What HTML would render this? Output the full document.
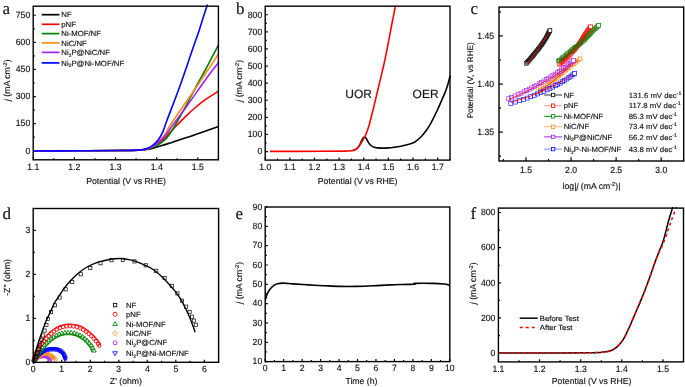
<!DOCTYPE html>
<html><head><meta charset="utf-8"><style>html,body{margin:0;padding:0;background:#fff;width:685px;height:387px;overflow:hidden}svg{display:block;will-change:transform}text{font-family:"Liberation Sans",sans-serif;text-rendering:geometricPrecision;stroke:#111;stroke-width:0.15px}</style></head>
<body><svg width="685" height="387" viewBox="0 0 685 387" font-family="Liberation Sans, sans-serif" fill="#111" stroke-width="0"><path d="M33.20 159.80v-2.6 M74.36 159.80v-2.6 M115.51 159.80v-2.6 M156.67 159.80v-2.6 M197.82 159.80v-2.6 M53.78 159.80v-1.6 M94.93 159.80v-1.6 M136.09 159.80v-1.6 M177.24 159.80v-1.6 M218.40 159.80v-1.6 M33.20 150.76h2.6 M33.20 123.66h2.6 M33.20 96.55h2.6 M33.20 69.45h2.6 M33.20 42.34h2.6 M33.20 15.24h2.6 M33.20 137.21h1.6 M33.20 110.11h1.6 M33.20 83.00h1.6 M33.20 55.89h1.6 M33.20 28.79h1.6" stroke="#000" stroke-width="1.2" fill="none"/>
<text transform="translate(33.20,169.60) scale(0.96,1)" font-size="9.0" text-anchor="middle" >1.1</text>
<text transform="translate(74.36,169.60) scale(0.96,1)" font-size="9.0" text-anchor="middle" >1.2</text>
<text transform="translate(115.51,169.60) scale(0.96,1)" font-size="9.0" text-anchor="middle" >1.3</text>
<text transform="translate(156.67,169.60) scale(0.96,1)" font-size="9.0" text-anchor="middle" >1.4</text>
<text transform="translate(197.82,169.60) scale(0.96,1)" font-size="9.0" text-anchor="middle" >1.5</text>
<text transform="translate(30.20,153.59) scale(0.96,1)" font-size="9.0" text-anchor="end" >0</text>
<text transform="translate(30.20,126.48) scale(0.96,1)" font-size="9.0" text-anchor="end" >150</text>
<text transform="translate(30.20,99.37) scale(0.96,1)" font-size="9.0" text-anchor="end" >300</text>
<text transform="translate(30.20,72.27) scale(0.96,1)" font-size="9.0" text-anchor="end" >450</text>
<text transform="translate(30.20,45.16) scale(0.96,1)" font-size="9.0" text-anchor="end" >600</text>
<text transform="translate(30.20,18.06) scale(0.96,1)" font-size="9.0" text-anchor="end" >750</text>
<text x="2.50" y="14.10" style="font-family:'Liberation Serif',serif" font-size="17">a</text>
<text transform="translate(9.60,80.20) rotate(-90) scale(1.0,1)" font-size="8.7" text-anchor="middle"><tspan font-style="italic">j</tspan> (mA cm<tspan font-size="5.6" dy="-3">-2</tspan><tspan dy="3">)</tspan></text>
<text transform="translate(126.00,183.80) scale(1.0,1)" font-size="8.7" text-anchor="middle" >Potential (V vs RHE)</text>
<path d="M33.50 151.00 C41.25 150.97 65.58 150.88 80.00 150.80 C94.42 150.72 110.33 150.60 120.00 150.50 C129.67 150.40 134.00 150.30 138.00 150.20 C142.00 150.10 142.17 150.05 144.00 149.90 C145.83 149.75 147.10 149.72 149.00 149.30 C150.90 148.88 153.13 148.07 155.40 147.40 C157.67 146.73 160.17 146.02 162.60 145.30 C165.03 144.58 167.77 143.82 170.00 143.10 C172.23 142.38 172.67 142.12 176.00 141.00 C179.33 139.88 186.00 137.75 190.00 136.40 C194.00 135.05 195.25 134.53 200.00 132.90 C204.75 131.27 215.42 127.65 218.50 126.60" stroke="#000" stroke-width="1.6" fill="none" stroke-linejoin="round" />
<path d="M33.50 151.00 C41.25 150.97 65.58 150.88 80.00 150.80 C94.42 150.72 110.33 150.60 120.00 150.50 C129.67 150.40 134.00 150.35 138.00 150.20 C142.00 150.05 142.17 149.87 144.00 149.60 C145.83 149.33 147.50 149.07 149.00 148.60 C150.50 148.13 151.48 147.63 153.00 146.80 C154.52 145.97 156.05 145.13 158.10 143.60 C160.15 142.07 163.32 139.48 165.30 137.60 C167.28 135.72 168.07 134.35 170.00 132.30 C171.93 130.25 174.28 127.97 176.90 125.30 C179.52 122.63 182.52 119.35 185.70 116.30 C188.88 113.25 192.78 109.73 196.00 107.00 C199.22 104.27 201.25 102.52 205.00 99.90 C208.75 97.28 216.25 92.73 218.50 91.30" stroke="#ff0000" stroke-width="1.6" fill="none" stroke-linejoin="round" />
<path d="M33.50 151.00 C41.25 150.97 65.58 150.88 80.00 150.80 C94.42 150.72 110.33 150.60 120.00 150.50 C129.67 150.40 134.00 150.33 138.00 150.20 C142.00 150.07 142.17 149.93 144.00 149.70 C145.83 149.47 147.50 149.20 149.00 148.80 C150.50 148.40 151.48 147.97 153.00 147.30 C154.52 146.63 156.05 146.12 158.10 144.80 C160.15 143.48 163.32 141.27 165.30 139.40 C167.28 137.53 168.33 136.00 170.00 133.60 C171.67 131.20 172.68 129.55 175.30 125.00 C177.92 120.45 182.08 112.97 185.70 106.30 C189.32 99.63 193.65 91.22 197.00 85.00 C200.35 78.78 203.30 73.63 205.80 69.00 C208.30 64.37 209.88 61.20 212.00 57.20 C214.12 53.20 217.42 47.03 218.50 45.00" stroke="#008000" stroke-width="1.6" fill="none" stroke-linejoin="round" />
<path d="M33.50 151.00 C41.25 150.97 65.58 150.88 80.00 150.80 C94.42 150.72 110.33 150.60 120.00 150.50 C129.67 150.40 134.00 150.38 138.00 150.20 C142.00 150.02 142.17 149.73 144.00 149.40 C145.83 149.07 147.50 148.77 149.00 148.20 C150.50 147.63 151.48 147.05 153.00 146.00 C154.52 144.95 156.05 143.90 158.10 141.90 C160.15 139.90 163.32 136.75 165.30 134.00 C167.28 131.25 166.60 130.65 170.00 125.40 C173.40 120.15 181.02 109.30 185.70 102.50 C190.38 95.70 194.75 89.52 198.10 84.60 C201.45 79.68 203.48 76.47 205.80 73.00 C208.12 69.53 209.88 66.97 212.00 63.80 C214.12 60.63 217.42 55.63 218.50 54.00" stroke="#ff8c1a" stroke-width="1.6" fill="none" stroke-linejoin="round" />
<path d="M33.50 151.00 C41.25 150.97 65.58 150.88 80.00 150.80 C94.42 150.72 110.33 150.60 120.00 150.50 C129.67 150.40 134.00 150.37 138.00 150.20 C142.00 150.03 142.17 149.80 144.00 149.50 C145.83 149.20 147.50 148.92 149.00 148.40 C150.50 147.88 151.48 147.37 153.00 146.40 C154.52 145.43 156.05 144.37 158.10 142.60 C160.15 140.83 163.32 138.07 165.30 135.80 C167.28 133.53 168.75 130.80 170.00 129.00 C171.25 127.20 170.18 128.55 172.80 125.00 C175.42 121.45 180.88 114.37 185.70 107.70 C190.52 101.03 197.65 90.68 201.70 85.00 C205.75 79.32 207.20 77.33 210.00 73.60 C212.80 69.87 217.08 64.43 218.50 62.60" stroke="#a020f0" stroke-width="1.6" fill="none" stroke-linejoin="round" />
<path d="M33.50 151.00 C41.25 150.97 65.58 150.88 80.00 150.80 C94.42 150.72 110.33 150.62 120.00 150.50 C129.67 150.38 134.00 150.32 138.00 150.10 C142.00 149.88 142.17 149.62 144.00 149.20 C145.83 148.78 147.50 148.30 149.00 147.60 C150.50 146.90 151.48 146.28 153.00 145.00 C154.52 143.72 156.50 142.02 158.10 139.90 C159.70 137.78 161.12 135.57 162.60 132.30 C164.08 129.03 164.02 128.27 167.00 120.30 C169.98 112.33 176.25 96.30 180.50 84.50 C184.75 72.70 189.35 58.63 192.50 49.50 C195.65 40.37 197.40 35.72 199.40 29.70 C201.40 23.68 203.15 17.60 204.50 13.40 C205.85 9.20 207.00 5.98 207.50 4.50" stroke="#0000ff" stroke-width="1.6" fill="none" stroke-linejoin="round" />
<path d="M41.7 14.70H59.4" stroke="#000" stroke-width="1.7"/>
<text transform="translate(61.30,17.35) scale(1.05,1)" font-size="7.4" text-anchor="start" >NF</text>
<path d="M41.7 24.30H59.4" stroke="#ff0000" stroke-width="1.7"/>
<text transform="translate(61.30,26.95) scale(1.05,1)" font-size="7.4" text-anchor="start" >pNF</text>
<path d="M41.7 33.60H59.4" stroke="#008000" stroke-width="1.7"/>
<text transform="translate(61.30,36.25) scale(1.05,1)" font-size="7.4" text-anchor="start" >Ni-MOF/NF</text>
<path d="M41.7 42.90H59.4" stroke="#ff8c1a" stroke-width="1.7"/>
<text transform="translate(61.30,45.55) scale(1.05,1)" font-size="7.4" text-anchor="start" >NiC/NF</text>
<path d="M41.7 52.40H59.4" stroke="#a020f0" stroke-width="1.7"/>
<text transform="translate(61.30,55.05) scale(1.05,1)" font-size="7.4" text-anchor="start" >Ni<tspan font-size="4.8" dy="1.8">2</tspan><tspan dy="-1.8">P@NiC/NF</tspan></text>
<path d="M41.7 62.90H59.4" stroke="#0000ff" stroke-width="1.7"/>
<text transform="translate(61.30,65.55) scale(1.05,1)" font-size="7.4" text-anchor="start" >Ni<tspan font-size="4.8" dy="1.8">2</tspan><tspan dy="-1.8">P@Ni-MOF/NF</tspan></text>
<path d="M265.20 160.10v-2.6 M289.84 160.10v-2.6 M314.48 160.10v-2.6 M339.12 160.10v-2.6 M363.76 160.10v-2.6 M388.40 160.10v-2.6 M413.04 160.10v-2.6 M437.68 160.10v-2.6 M277.52 160.10v-1.6 M302.16 160.10v-1.6 M326.80 160.10v-1.6 M351.44 160.10v-1.6 M376.08 160.10v-1.6 M400.72 160.10v-1.6 M425.36 160.10v-1.6 M450.00 160.10v-1.6 M265.20 151.55h2.6 M265.20 134.45h2.6 M265.20 117.35h2.6 M265.20 100.25h2.6 M265.20 83.15h2.6 M265.20 66.05h2.6 M265.20 48.95h2.6 M265.20 31.85h2.6 M265.20 14.75h2.6 M265.20 143.00h1.6 M265.20 125.90h1.6 M265.20 108.80h1.6 M265.20 91.70h1.6 M265.20 74.60h1.6 M265.20 57.50h1.6 M265.20 40.40h1.6 M265.20 23.30h1.6" stroke="#000" stroke-width="1.2" fill="none"/>
<text transform="translate(265.20,169.90) scale(0.96,1)" font-size="9.0" text-anchor="middle" >1.0</text>
<text transform="translate(289.84,169.90) scale(0.96,1)" font-size="9.0" text-anchor="middle" >1.1</text>
<text transform="translate(314.48,169.90) scale(0.96,1)" font-size="9.0" text-anchor="middle" >1.2</text>
<text transform="translate(339.12,169.90) scale(0.96,1)" font-size="9.0" text-anchor="middle" >1.3</text>
<text transform="translate(363.76,169.90) scale(0.96,1)" font-size="9.0" text-anchor="middle" >1.4</text>
<text transform="translate(388.40,169.90) scale(0.96,1)" font-size="9.0" text-anchor="middle" >1.5</text>
<text transform="translate(413.04,169.90) scale(0.96,1)" font-size="9.0" text-anchor="middle" >1.6</text>
<text transform="translate(437.68,169.90) scale(0.96,1)" font-size="9.0" text-anchor="middle" >1.7</text>
<text transform="translate(262.20,154.37) scale(0.96,1)" font-size="9.0" text-anchor="end" >0</text>
<text transform="translate(262.20,137.27) scale(0.96,1)" font-size="9.0" text-anchor="end" >100</text>
<text transform="translate(262.20,120.17) scale(0.96,1)" font-size="9.0" text-anchor="end" >200</text>
<text transform="translate(262.20,103.07) scale(0.96,1)" font-size="9.0" text-anchor="end" >300</text>
<text transform="translate(262.20,85.97) scale(0.96,1)" font-size="9.0" text-anchor="end" >400</text>
<text transform="translate(262.20,68.87) scale(0.96,1)" font-size="9.0" text-anchor="end" >500</text>
<text transform="translate(262.20,51.77) scale(0.96,1)" font-size="9.0" text-anchor="end" >600</text>
<text transform="translate(262.20,34.67) scale(0.96,1)" font-size="9.0" text-anchor="end" >700</text>
<text transform="translate(262.20,17.57) scale(0.96,1)" font-size="9.0" text-anchor="end" >800</text>
<text x="236.10" y="14.30" style="font-family:'Liberation Serif',serif" font-size="17">b</text>
<text transform="translate(242.20,80.80) rotate(-90) scale(1.0,1)" font-size="8.7" text-anchor="middle"><tspan font-style="italic">j</tspan> (mA cm<tspan font-size="5.6" dy="-3">-2</tspan><tspan dy="3">)</tspan></text>
<text transform="translate(357.60,183.90) scale(1.0,1)" font-size="8.7" text-anchor="middle" >Potential (V vs RHE)</text>
<path d="M353.00 150.60 C353.67 150.25 355.92 149.38 357.00 148.50 C358.08 147.62 358.75 146.57 359.50 145.30 C360.25 144.03 360.82 142.23 361.50 140.90 C362.18 139.57 362.90 137.85 363.60 137.30 C364.30 136.75 365.02 136.95 365.70 137.60 C366.38 138.25 366.85 139.88 367.70 141.20 C368.55 142.52 369.58 144.45 370.80 145.50 C372.02 146.55 373.27 147.07 375.00 147.50 C376.73 147.93 378.97 148.03 381.20 148.10 C383.43 148.17 386.10 148.07 388.40 147.90 C390.70 147.73 392.73 147.42 395.00 147.10 C397.27 146.78 399.67 146.47 402.00 146.00 C404.33 145.53 406.87 144.97 409.00 144.30 C411.13 143.63 412.87 143.17 414.80 142.00 C416.73 140.83 418.67 139.25 420.60 137.30 C422.53 135.35 424.67 132.72 426.40 130.30 C428.13 127.88 429.17 126.18 431.00 122.80 C432.83 119.42 435.57 113.88 437.40 110.00 C439.23 106.12 440.70 102.48 442.00 99.50 C443.30 96.52 444.20 94.68 445.20 92.10 C446.20 89.52 447.17 86.77 448.00 84.00 C448.83 81.23 449.83 76.92 450.20 75.50" stroke="#000" stroke-width="1.6" fill="none" stroke-linejoin="round" />
<path d="M270.00 151.40 C278.33 151.38 307.50 151.35 320.00 151.30 C332.50 151.25 339.67 151.22 345.00 151.10 C350.33 150.98 350.28 150.80 352.00 150.60 C353.72 150.40 354.23 150.52 355.30 149.90 C356.37 149.28 357.18 148.43 358.40 146.90 C359.62 145.37 361.38 142.72 362.60 140.70 C363.82 138.68 364.67 137.22 365.70 134.80 C366.73 132.38 368.05 128.50 368.80 126.20 C369.55 123.90 369.42 124.03 370.20 121.00 C370.98 117.97 372.30 112.88 373.50 108.00 C374.70 103.12 375.65 99.03 377.40 91.70 C379.15 84.37 382.35 71.28 384.00 64.00 C385.65 56.72 386.08 54.17 387.30 48.00 C388.52 41.83 389.93 34.08 391.30 27.00 C392.67 19.92 394.80 9.08 395.50 5.50" stroke="#ff0000" stroke-width="1.6" fill="none" stroke-linejoin="round" />
<text transform="translate(358.60,97.90) scale(1.0,1)" font-size="12" text-anchor="middle" >UOR</text>
<text transform="translate(425.60,97.90) scale(1.0,1)" font-size="12" text-anchor="middle" >OER</text>
<path d="M526.03 161.00v-3.8 M571.08 161.00v-3.8 M616.13 161.00v-3.8 M661.18 161.00v-3.8 M503.50 161.00v-2.0 M548.55 161.00v-2.0 M593.60 161.00v-2.0 M638.65 161.00v-2.0 M683.70 161.00v-2.0 M499.00 132.14h3.8 M499.00 84.05h3.8 M499.00 35.96h3.8 M499.00 156.19h2.0 M499.00 108.10h2.0 M499.00 60.00h2.0 M499.00 11.91h2.0" stroke="#000" stroke-width="1.2" fill="none"/>
<text transform="translate(526.03,172.60) scale(0.96,1)" font-size="9.0" text-anchor="middle" >1.5</text>
<text transform="translate(571.08,172.60) scale(0.96,1)" font-size="9.0" text-anchor="middle" >2.0</text>
<text transform="translate(616.13,172.60) scale(0.96,1)" font-size="9.0" text-anchor="middle" >2.5</text>
<text transform="translate(661.18,172.60) scale(0.96,1)" font-size="9.0" text-anchor="middle" >3.0</text>
<text transform="translate(494.00,134.97) scale(0.96,1)" font-size="9.0" text-anchor="end" >1.35</text>
<text transform="translate(494.00,86.87) scale(0.96,1)" font-size="9.0" text-anchor="end" >1.40</text>
<text transform="translate(494.00,38.78) scale(0.96,1)" font-size="9.0" text-anchor="end" >1.45</text>
<text x="470.50" y="14.20" style="font-family:'Liberation Serif',serif" font-size="17">c</text>
<text transform="translate(473.20,80.30) rotate(-90) scale(1.0,1)" font-size="8.15" text-anchor="middle">Potential (V, vs RHE)</text>
<text transform="translate(591.50,188.60) scale(1.0,1)" font-size="8.7" text-anchor="middle" >log|<tspan font-style="italic">j</tspan> (mA cm<tspan font-size="5.6" dy="-3">-2</tspan><tspan dy="3">)|</tspan></text>
<rect x="524.50" y="61.60" width="3.60" height="3.60" fill="none" stroke="#000" stroke-width="0.6"/>
<rect x="525.44" y="60.54" width="3.60" height="3.60" fill="none" stroke="#000" stroke-width="0.6"/>
<rect x="526.37" y="59.49" width="3.60" height="3.60" fill="none" stroke="#000" stroke-width="0.6"/>
<rect x="527.31" y="58.43" width="3.60" height="3.60" fill="none" stroke="#000" stroke-width="0.6"/>
<rect x="528.16" y="57.46" width="3.60" height="3.60" fill="none" stroke="#000" stroke-width="0.6"/>
<rect x="529.03" y="56.46" width="3.60" height="3.60" fill="none" stroke="#000" stroke-width="0.6"/>
<rect x="529.88" y="55.47" width="3.60" height="3.60" fill="none" stroke="#000" stroke-width="0.6"/>
<rect x="530.70" y="54.50" width="3.60" height="3.60" fill="none" stroke="#000" stroke-width="0.6"/>
<rect x="531.50" y="53.54" width="3.60" height="3.60" fill="none" stroke="#000" stroke-width="0.6"/>
<rect x="532.33" y="52.54" width="3.60" height="3.60" fill="none" stroke="#000" stroke-width="0.6"/>
<rect x="533.17" y="51.51" width="3.60" height="3.60" fill="none" stroke="#000" stroke-width="0.6"/>
<rect x="534.03" y="50.46" width="3.60" height="3.60" fill="none" stroke="#000" stroke-width="0.6"/>
<rect x="534.88" y="49.40" width="3.60" height="3.60" fill="none" stroke="#000" stroke-width="0.6"/>
<rect x="535.72" y="48.34" width="3.60" height="3.60" fill="none" stroke="#000" stroke-width="0.6"/>
<rect x="536.54" y="47.29" width="3.60" height="3.60" fill="none" stroke="#000" stroke-width="0.6"/>
<rect x="537.34" y="46.24" width="3.60" height="3.60" fill="none" stroke="#000" stroke-width="0.6"/>
<rect x="538.11" y="45.22" width="3.60" height="3.60" fill="none" stroke="#000" stroke-width="0.6"/>
<rect x="538.86" y="44.20" width="3.60" height="3.60" fill="none" stroke="#000" stroke-width="0.6"/>
<rect x="539.60" y="43.19" width="3.60" height="3.60" fill="none" stroke="#000" stroke-width="0.6"/>
<rect x="540.32" y="42.19" width="3.60" height="3.60" fill="none" stroke="#000" stroke-width="0.6"/>
<rect x="541.03" y="41.18" width="3.60" height="3.60" fill="none" stroke="#000" stroke-width="0.6"/>
<rect x="541.72" y="40.16" width="3.60" height="3.60" fill="none" stroke="#000" stroke-width="0.6"/>
<rect x="542.40" y="39.14" width="3.60" height="3.60" fill="none" stroke="#000" stroke-width="0.6"/>
<rect x="543.06" y="38.10" width="3.60" height="3.60" fill="none" stroke="#000" stroke-width="0.6"/>
<rect x="543.72" y="37.04" width="3.60" height="3.60" fill="none" stroke="#000" stroke-width="0.6"/>
<rect x="544.39" y="35.88" width="3.60" height="3.60" fill="none" stroke="#000" stroke-width="0.6"/>
<rect x="544.97" y="34.85" width="3.60" height="3.60" fill="none" stroke="#000" stroke-width="0.6"/>
<rect x="545.54" y="33.79" width="3.60" height="3.60" fill="none" stroke="#000" stroke-width="0.6"/>
<rect x="546.10" y="32.73" width="3.60" height="3.60" fill="none" stroke="#000" stroke-width="0.6"/>
<rect x="546.64" y="31.71" width="3.60" height="3.60" fill="none" stroke="#000" stroke-width="0.6"/>
<rect x="547.14" y="30.74" width="3.60" height="3.60" fill="none" stroke="#000" stroke-width="0.6"/>
<rect x="547.67" y="29.70" width="3.60" height="3.60" fill="none" stroke="#000" stroke-width="0.6"/>
<rect x="548.18" y="28.72" width="3.60" height="3.60" fill="none" stroke="#000" stroke-width="0.6"/>
<path d="M527.20 64.30 L549.80 31.80" stroke="#ff0000" stroke-width="0.8" fill="none" stroke-linejoin="round" />
<rect x="548.18" y="28.72" width="3.60" height="3.60" fill="#fff" stroke="#000" stroke-width="0.6"/>
<rect x="557.70" y="62.80" width="3.60" height="3.60" fill="none" stroke="#ff0000" stroke-width="0.6"/>
<rect x="558.90" y="61.71" width="3.60" height="3.60" fill="none" stroke="#ff0000" stroke-width="0.6"/>
<rect x="560.04" y="60.69" width="3.60" height="3.60" fill="none" stroke="#ff0000" stroke-width="0.6"/>
<rect x="561.16" y="59.69" width="3.60" height="3.60" fill="none" stroke="#ff0000" stroke-width="0.6"/>
<rect x="562.37" y="58.59" width="3.60" height="3.60" fill="none" stroke="#ff0000" stroke-width="0.6"/>
<rect x="563.41" y="57.62" width="3.60" height="3.60" fill="none" stroke="#ff0000" stroke-width="0.6"/>
<rect x="564.46" y="56.63" width="3.60" height="3.60" fill="none" stroke="#ff0000" stroke-width="0.6"/>
<rect x="565.50" y="55.61" width="3.60" height="3.60" fill="none" stroke="#ff0000" stroke-width="0.6"/>
<rect x="566.51" y="54.60" width="3.60" height="3.60" fill="none" stroke="#ff0000" stroke-width="0.6"/>
<rect x="567.49" y="53.57" width="3.60" height="3.60" fill="none" stroke="#ff0000" stroke-width="0.6"/>
<rect x="568.53" y="52.48" width="3.60" height="3.60" fill="none" stroke="#ff0000" stroke-width="0.6"/>
<rect x="569.60" y="51.32" width="3.60" height="3.60" fill="none" stroke="#ff0000" stroke-width="0.6"/>
<rect x="570.69" y="50.13" width="3.60" height="3.60" fill="none" stroke="#ff0000" stroke-width="0.6"/>
<rect x="571.57" y="49.16" width="3.60" height="3.60" fill="none" stroke="#ff0000" stroke-width="0.6"/>
<rect x="572.44" y="48.18" width="3.60" height="3.60" fill="none" stroke="#ff0000" stroke-width="0.6"/>
<rect x="573.31" y="47.19" width="3.60" height="3.60" fill="none" stroke="#ff0000" stroke-width="0.6"/>
<rect x="574.15" y="46.21" width="3.60" height="3.60" fill="none" stroke="#ff0000" stroke-width="0.6"/>
<rect x="574.96" y="45.24" width="3.60" height="3.60" fill="none" stroke="#ff0000" stroke-width="0.6"/>
<rect x="575.93" y="44.06" width="3.60" height="3.60" fill="none" stroke="#ff0000" stroke-width="0.6"/>
<rect x="576.83" y="42.92" width="3.60" height="3.60" fill="none" stroke="#ff0000" stroke-width="0.6"/>
<rect x="577.65" y="41.82" width="3.60" height="3.60" fill="none" stroke="#ff0000" stroke-width="0.6"/>
<rect x="578.42" y="40.72" width="3.60" height="3.60" fill="none" stroke="#ff0000" stroke-width="0.6"/>
<rect x="579.13" y="39.64" width="3.60" height="3.60" fill="none" stroke="#ff0000" stroke-width="0.6"/>
<rect x="579.81" y="38.56" width="3.60" height="3.60" fill="none" stroke="#ff0000" stroke-width="0.6"/>
<rect x="580.44" y="37.50" width="3.60" height="3.60" fill="none" stroke="#ff0000" stroke-width="0.6"/>
<rect x="581.06" y="36.46" width="3.60" height="3.60" fill="none" stroke="#ff0000" stroke-width="0.6"/>
<rect x="581.65" y="35.44" width="3.60" height="3.60" fill="none" stroke="#ff0000" stroke-width="0.6"/>
<rect x="582.23" y="34.45" width="3.60" height="3.60" fill="none" stroke="#ff0000" stroke-width="0.6"/>
<rect x="582.92" y="33.31" width="3.60" height="3.60" fill="none" stroke="#ff0000" stroke-width="0.6"/>
<rect x="583.62" y="32.22" width="3.60" height="3.60" fill="none" stroke="#ff0000" stroke-width="0.6"/>
<rect x="584.34" y="31.14" width="3.60" height="3.60" fill="none" stroke="#ff0000" stroke-width="0.6"/>
<rect x="585.07" y="30.06" width="3.60" height="3.60" fill="none" stroke="#ff0000" stroke-width="0.6"/>
<rect x="585.80" y="29.01" width="3.60" height="3.60" fill="none" stroke="#ff0000" stroke-width="0.6"/>
<rect x="586.51" y="28.01" width="3.60" height="3.60" fill="none" stroke="#ff0000" stroke-width="0.6"/>
<rect x="587.27" y="26.93" width="3.60" height="3.60" fill="none" stroke="#ff0000" stroke-width="0.6"/>
<rect x="588.01" y="25.88" width="3.60" height="3.60" fill="none" stroke="#ff0000" stroke-width="0.6"/>
<rect x="588.70" y="24.90" width="3.60" height="3.60" fill="none" stroke="#ff0000" stroke-width="0.6"/>
<path d="M559.50 64.60 C561.00 63.20 565.28 59.55 568.50 56.20 C571.72 52.85 576.00 48.17 578.80 44.50 C581.60 40.83 583.35 37.17 585.30 34.20 C587.25 31.23 589.63 27.95 590.50 26.70" stroke="#ff0000" stroke-width="0.8" fill="none" stroke-linejoin="round" />
<rect x="588.70" y="24.90" width="3.60" height="3.60" fill="#fff" stroke="#ff0000" stroke-width="0.6"/>
<rect x="556.40" y="59.30" width="3.60" height="3.60" fill="none" stroke="#008000" stroke-width="0.6"/>
<rect x="557.66" y="58.28" width="3.60" height="3.60" fill="none" stroke="#008000" stroke-width="0.6"/>
<rect x="559.11" y="57.12" width="3.60" height="3.60" fill="none" stroke="#008000" stroke-width="0.6"/>
<rect x="560.52" y="55.99" width="3.60" height="3.60" fill="none" stroke="#008000" stroke-width="0.6"/>
<rect x="561.74" y="55.01" width="3.60" height="3.60" fill="none" stroke="#008000" stroke-width="0.6"/>
<rect x="563.02" y="53.98" width="3.60" height="3.60" fill="none" stroke="#008000" stroke-width="0.6"/>
<rect x="564.33" y="52.93" width="3.60" height="3.60" fill="none" stroke="#008000" stroke-width="0.6"/>
<rect x="565.66" y="51.86" width="3.60" height="3.60" fill="none" stroke="#008000" stroke-width="0.6"/>
<rect x="566.97" y="50.81" width="3.60" height="3.60" fill="none" stroke="#008000" stroke-width="0.6"/>
<rect x="568.25" y="49.78" width="3.60" height="3.60" fill="none" stroke="#008000" stroke-width="0.6"/>
<rect x="569.47" y="48.81" width="3.60" height="3.60" fill="none" stroke="#008000" stroke-width="0.6"/>
<rect x="570.87" y="47.68" width="3.60" height="3.60" fill="none" stroke="#008000" stroke-width="0.6"/>
<rect x="572.25" y="46.59" width="3.60" height="3.60" fill="none" stroke="#008000" stroke-width="0.6"/>
<rect x="573.64" y="45.51" width="3.60" height="3.60" fill="none" stroke="#008000" stroke-width="0.6"/>
<rect x="575.04" y="44.42" width="3.60" height="3.60" fill="none" stroke="#008000" stroke-width="0.6"/>
<rect x="576.43" y="43.35" width="3.60" height="3.60" fill="none" stroke="#008000" stroke-width="0.6"/>
<rect x="577.79" y="42.29" width="3.60" height="3.60" fill="none" stroke="#008000" stroke-width="0.6"/>
<rect x="579.11" y="41.25" width="3.60" height="3.60" fill="none" stroke="#008000" stroke-width="0.6"/>
<rect x="580.37" y="40.24" width="3.60" height="3.60" fill="none" stroke="#008000" stroke-width="0.6"/>
<rect x="581.57" y="39.26" width="3.60" height="3.60" fill="none" stroke="#008000" stroke-width="0.6"/>
<rect x="582.89" y="38.14" width="3.60" height="3.60" fill="none" stroke="#008000" stroke-width="0.6"/>
<rect x="584.07" y="37.08" width="3.60" height="3.60" fill="none" stroke="#008000" stroke-width="0.6"/>
<rect x="585.08" y="36.08" width="3.60" height="3.60" fill="none" stroke="#008000" stroke-width="0.6"/>
<rect x="586.10" y="35.00" width="3.60" height="3.60" fill="none" stroke="#008000" stroke-width="0.6"/>
<rect x="586.99" y="33.97" width="3.60" height="3.60" fill="none" stroke="#008000" stroke-width="0.6"/>
<rect x="587.80" y="32.98" width="3.60" height="3.60" fill="none" stroke="#008000" stroke-width="0.6"/>
<rect x="588.60" y="32.01" width="3.60" height="3.60" fill="none" stroke="#008000" stroke-width="0.6"/>
<rect x="589.43" y="31.04" width="3.60" height="3.60" fill="none" stroke="#008000" stroke-width="0.6"/>
<rect x="590.34" y="30.06" width="3.60" height="3.60" fill="none" stroke="#008000" stroke-width="0.6"/>
<rect x="591.37" y="29.01" width="3.60" height="3.60" fill="none" stroke="#008000" stroke-width="0.6"/>
<rect x="592.47" y="27.90" width="3.60" height="3.60" fill="none" stroke="#008000" stroke-width="0.6"/>
<rect x="593.60" y="26.80" width="3.60" height="3.60" fill="none" stroke="#008000" stroke-width="0.6"/>
<rect x="594.68" y="25.74" width="3.60" height="3.60" fill="none" stroke="#008000" stroke-width="0.6"/>
<rect x="595.79" y="24.67" width="3.60" height="3.60" fill="none" stroke="#008000" stroke-width="0.6"/>
<rect x="596.87" y="23.63" width="3.60" height="3.60" fill="none" stroke="#008000" stroke-width="0.6"/>
<path d="M558.20 61.10 C560.57 59.20 567.88 53.32 572.40 49.70 C576.92 46.08 582.03 42.35 585.30 39.40 C588.57 36.45 589.73 34.37 592.00 32.00 C594.27 29.63 597.75 26.33 598.90 25.20" stroke="#ff0000" stroke-width="0.8" fill="none" stroke-linejoin="round" />
<rect x="596.87" y="23.63" width="3.60" height="3.60" fill="#fff" stroke="#008000" stroke-width="0.6"/>
<rect x="536.70" y="89.70" width="3.60" height="3.60" fill="none" stroke="#ff8c1a" stroke-width="0.6"/>
<rect x="538.31" y="88.60" width="3.60" height="3.60" fill="none" stroke="#ff8c1a" stroke-width="0.6"/>
<rect x="540.00" y="87.45" width="3.60" height="3.60" fill="none" stroke="#ff8c1a" stroke-width="0.6"/>
<rect x="541.68" y="86.31" width="3.60" height="3.60" fill="none" stroke="#ff8c1a" stroke-width="0.6"/>
<rect x="543.49" y="85.07" width="3.60" height="3.60" fill="none" stroke="#ff8c1a" stroke-width="0.6"/>
<rect x="545.37" y="83.76" width="3.60" height="3.60" fill="none" stroke="#ff8c1a" stroke-width="0.6"/>
<rect x="546.94" y="82.64" width="3.60" height="3.60" fill="none" stroke="#ff8c1a" stroke-width="0.6"/>
<rect x="548.47" y="81.52" width="3.60" height="3.60" fill="none" stroke="#ff8c1a" stroke-width="0.6"/>
<rect x="549.92" y="80.42" width="3.60" height="3.60" fill="none" stroke="#ff8c1a" stroke-width="0.6"/>
<rect x="551.58" y="79.10" width="3.60" height="3.60" fill="none" stroke="#ff8c1a" stroke-width="0.6"/>
<rect x="552.96" y="77.95" width="3.60" height="3.60" fill="none" stroke="#ff8c1a" stroke-width="0.6"/>
<rect x="554.35" y="76.76" width="3.60" height="3.60" fill="none" stroke="#ff8c1a" stroke-width="0.6"/>
<rect x="555.74" y="75.55" width="3.60" height="3.60" fill="none" stroke="#ff8c1a" stroke-width="0.6"/>
<rect x="557.14" y="74.32" width="3.60" height="3.60" fill="none" stroke="#ff8c1a" stroke-width="0.6"/>
<rect x="558.55" y="73.08" width="3.60" height="3.60" fill="none" stroke="#ff8c1a" stroke-width="0.6"/>
<rect x="559.95" y="71.83" width="3.60" height="3.60" fill="none" stroke="#ff8c1a" stroke-width="0.6"/>
<rect x="561.37" y="70.60" width="3.60" height="3.60" fill="none" stroke="#ff8c1a" stroke-width="0.6"/>
<rect x="562.78" y="69.39" width="3.60" height="3.60" fill="none" stroke="#ff8c1a" stroke-width="0.6"/>
<rect x="564.20" y="68.20" width="3.60" height="3.60" fill="none" stroke="#ff8c1a" stroke-width="0.6"/>
<rect x="565.69" y="66.98" width="3.60" height="3.60" fill="none" stroke="#ff8c1a" stroke-width="0.6"/>
<rect x="567.28" y="65.70" width="3.60" height="3.60" fill="none" stroke="#ff8c1a" stroke-width="0.6"/>
<rect x="568.94" y="64.38" width="3.60" height="3.60" fill="none" stroke="#ff8c1a" stroke-width="0.6"/>
<rect x="570.62" y="63.05" width="3.60" height="3.60" fill="none" stroke="#ff8c1a" stroke-width="0.6"/>
<rect x="572.28" y="61.75" width="3.60" height="3.60" fill="none" stroke="#ff8c1a" stroke-width="0.6"/>
<rect x="573.86" y="60.51" width="3.60" height="3.60" fill="none" stroke="#ff8c1a" stroke-width="0.6"/>
<rect x="575.33" y="59.36" width="3.60" height="3.60" fill="none" stroke="#ff8c1a" stroke-width="0.6"/>
<rect x="576.87" y="58.15" width="3.60" height="3.60" fill="none" stroke="#ff8c1a" stroke-width="0.6"/>
<rect x="578.29" y="57.05" width="3.60" height="3.60" fill="none" stroke="#ff8c1a" stroke-width="0.6"/>
<path d="M538.50 91.50 C540.75 89.92 547.42 85.58 552.00 82.00 C556.58 78.42 561.27 73.90 566.00 70.00 C570.73 66.10 578.00 60.50 580.40 58.60" stroke="#ff0000" stroke-width="0.8" fill="none" stroke-linejoin="round" />
<rect x="578.29" y="57.05" width="3.60" height="3.60" fill="#fff" stroke="#ff8c1a" stroke-width="0.6"/>
<rect x="506.70" y="96.70" width="4.00" height="4.00" fill="none" stroke="#a020f0" stroke-width="0.6"/>
<rect x="509.68" y="95.39" width="4.00" height="4.00" fill="none" stroke="#a020f0" stroke-width="0.6"/>
<rect x="512.91" y="93.98" width="4.00" height="4.00" fill="none" stroke="#a020f0" stroke-width="0.6"/>
<rect x="516.14" y="92.55" width="4.00" height="4.00" fill="none" stroke="#a020f0" stroke-width="0.6"/>
<rect x="519.02" y="91.24" width="4.00" height="4.00" fill="none" stroke="#a020f0" stroke-width="0.6"/>
<rect x="522.00" y="89.85" width="4.00" height="4.00" fill="none" stroke="#a020f0" stroke-width="0.6"/>
<rect x="524.65" y="88.54" width="4.00" height="4.00" fill="none" stroke="#a020f0" stroke-width="0.6"/>
<rect x="527.23" y="87.23" width="4.00" height="4.00" fill="none" stroke="#a020f0" stroke-width="0.6"/>
<rect x="529.77" y="85.89" width="4.00" height="4.00" fill="none" stroke="#a020f0" stroke-width="0.6"/>
<rect x="532.28" y="84.54" width="4.00" height="4.00" fill="none" stroke="#a020f0" stroke-width="0.6"/>
<rect x="534.80" y="83.15" width="4.00" height="4.00" fill="none" stroke="#a020f0" stroke-width="0.6"/>
<rect x="537.36" y="81.71" width="4.00" height="4.00" fill="none" stroke="#a020f0" stroke-width="0.6"/>
<rect x="539.68" y="80.38" width="4.00" height="4.00" fill="none" stroke="#a020f0" stroke-width="0.6"/>
<rect x="542.02" y="79.00" width="4.00" height="4.00" fill="none" stroke="#a020f0" stroke-width="0.6"/>
<rect x="544.36" y="77.60" width="4.00" height="4.00" fill="none" stroke="#a020f0" stroke-width="0.6"/>
<rect x="546.65" y="76.21" width="4.00" height="4.00" fill="none" stroke="#a020f0" stroke-width="0.6"/>
<rect x="548.86" y="74.85" width="4.00" height="4.00" fill="none" stroke="#a020f0" stroke-width="0.6"/>
<rect x="550.96" y="73.54" width="4.00" height="4.00" fill="none" stroke="#a020f0" stroke-width="0.6"/>
<rect x="553.19" y="72.14" width="4.00" height="4.00" fill="none" stroke="#a020f0" stroke-width="0.6"/>
<rect x="555.33" y="70.79" width="4.00" height="4.00" fill="none" stroke="#a020f0" stroke-width="0.6"/>
<rect x="557.39" y="69.47" width="4.00" height="4.00" fill="none" stroke="#a020f0" stroke-width="0.6"/>
<rect x="559.36" y="68.15" width="4.00" height="4.00" fill="none" stroke="#a020f0" stroke-width="0.6"/>
<rect x="561.27" y="66.81" width="4.00" height="4.00" fill="none" stroke="#a020f0" stroke-width="0.6"/>
<rect x="563.15" y="65.40" width="4.00" height="4.00" fill="none" stroke="#a020f0" stroke-width="0.6"/>
<rect x="564.88" y="64.00" width="4.00" height="4.00" fill="none" stroke="#a020f0" stroke-width="0.6"/>
<rect x="566.59" y="62.55" width="4.00" height="4.00" fill="none" stroke="#a020f0" stroke-width="0.6"/>
<rect x="568.20" y="61.14" width="4.00" height="4.00" fill="none" stroke="#a020f0" stroke-width="0.6"/>
<rect x="569.78" y="59.74" width="4.00" height="4.00" fill="none" stroke="#a020f0" stroke-width="0.6"/>
<rect x="571.30" y="58.40" width="4.00" height="4.00" fill="none" stroke="#a020f0" stroke-width="0.6"/>
<path d="M508.70 99.50 C511.30 98.33 519.33 94.92 524.30 92.50 C529.27 90.08 533.77 87.67 538.50 85.00 C543.23 82.33 548.43 79.17 552.70 76.50 C556.97 73.83 560.67 71.55 564.10 69.00 C567.53 66.45 571.77 62.50 573.30 61.20" stroke="#ff0000" stroke-width="0.8" fill="none" stroke-linejoin="round" />
<rect x="571.30" y="58.40" width="4.00" height="4.00" fill="#fff" stroke="#a020f0" stroke-width="0.6"/>
<rect x="508.80" y="101.40" width="4.00" height="4.00" fill="none" stroke="#0000ff" stroke-width="0.6"/>
<rect x="513.19" y="100.05" width="4.00" height="4.00" fill="none" stroke="#0000ff" stroke-width="0.6"/>
<rect x="517.46" y="98.71" width="4.00" height="4.00" fill="none" stroke="#0000ff" stroke-width="0.6"/>
<rect x="521.45" y="97.40" width="4.00" height="4.00" fill="none" stroke="#0000ff" stroke-width="0.6"/>
<rect x="525.10" y="96.09" width="4.00" height="4.00" fill="none" stroke="#0000ff" stroke-width="0.6"/>
<rect x="528.79" y="94.71" width="4.00" height="4.00" fill="none" stroke="#0000ff" stroke-width="0.6"/>
<rect x="532.22" y="93.36" width="4.00" height="4.00" fill="none" stroke="#0000ff" stroke-width="0.6"/>
<rect x="535.65" y="91.96" width="4.00" height="4.00" fill="none" stroke="#0000ff" stroke-width="0.6"/>
<rect x="538.77" y="90.63" width="4.00" height="4.00" fill="none" stroke="#0000ff" stroke-width="0.6"/>
<rect x="541.90" y="89.27" width="4.00" height="4.00" fill="none" stroke="#0000ff" stroke-width="0.6"/>
<rect x="545.02" y="87.86" width="4.00" height="4.00" fill="none" stroke="#0000ff" stroke-width="0.6"/>
<rect x="547.86" y="86.52" width="4.00" height="4.00" fill="none" stroke="#0000ff" stroke-width="0.6"/>
<rect x="550.70" y="85.10" width="4.00" height="4.00" fill="none" stroke="#0000ff" stroke-width="0.6"/>
<rect x="553.32" y="83.72" width="4.00" height="4.00" fill="none" stroke="#0000ff" stroke-width="0.6"/>
<rect x="555.71" y="82.42" width="4.00" height="4.00" fill="none" stroke="#0000ff" stroke-width="0.6"/>
<rect x="558.11" y="81.08" width="4.00" height="4.00" fill="none" stroke="#0000ff" stroke-width="0.6"/>
<rect x="560.43" y="79.73" width="4.00" height="4.00" fill="none" stroke="#0000ff" stroke-width="0.6"/>
<rect x="562.64" y="78.41" width="4.00" height="4.00" fill="none" stroke="#0000ff" stroke-width="0.6"/>
<rect x="564.90" y="77.00" width="4.00" height="4.00" fill="none" stroke="#0000ff" stroke-width="0.6"/>
<rect x="566.99" y="75.59" width="4.00" height="4.00" fill="none" stroke="#0000ff" stroke-width="0.6"/>
<rect x="568.99" y="74.14" width="4.00" height="4.00" fill="none" stroke="#0000ff" stroke-width="0.6"/>
<rect x="570.83" y="72.74" width="4.00" height="4.00" fill="none" stroke="#0000ff" stroke-width="0.6"/>
<rect x="572.57" y="71.37" width="4.00" height="4.00" fill="none" stroke="#0000ff" stroke-width="0.6"/>
<path d="M510.80 102.60 C513.05 101.88 519.68 99.93 524.30 98.30 C528.92 96.67 533.77 94.80 538.50 92.80 C543.23 90.80 547.97 88.73 552.70 86.30 C557.43 83.87 562.98 80.70 566.90 78.20 C570.82 75.70 574.65 72.45 576.20 71.30" stroke="#ff0000" stroke-width="0.8" fill="none" stroke-linejoin="round" />
<rect x="572.57" y="71.37" width="4.00" height="4.00" fill="#fff" stroke="#0000ff" stroke-width="0.6"/>
<path d="M544.2 95.00H562.2" stroke="#333" stroke-width="1"/>
<rect x="551.40" y="93.30" width="3.40" height="3.40" fill="#fff" stroke="#000" stroke-width="0.8"/>
<text transform="translate(563.70,97.65) scale(1.05,1)" font-size="7.4" text-anchor="start" >NF</text>
<text transform="translate(628.80,97.65) scale(1.05,1)" font-size="7.4" text-anchor="start" >131.6 mV dec<tspan font-size="5" dy="-3">-1</tspan></text>
<path d="M544.2 105.70H562.2" stroke="#ff9090" stroke-width="1"/>
<rect x="551.40" y="104.00" width="3.40" height="3.40" fill="#fff" stroke="#ff0000" stroke-width="0.8"/>
<text transform="translate(563.70,108.35) scale(1.05,1)" font-size="7.4" text-anchor="start" >pNF</text>
<text transform="translate(628.80,108.35) scale(1.05,1)" font-size="7.4" text-anchor="start" >117.8 mV dec<tspan font-size="5" dy="-3">-1</tspan></text>
<path d="M544.2 116.30H562.2" stroke="#008000" stroke-width="1"/>
<rect x="551.40" y="114.60" width="3.40" height="3.40" fill="#fff" stroke="#008000" stroke-width="0.8"/>
<text transform="translate(563.70,118.95) scale(1.05,1)" font-size="7.4" text-anchor="start" >Ni-MOF/NF</text>
<text transform="translate(628.80,118.95) scale(1.05,1)" font-size="7.4" text-anchor="start" >85.3 mV dec<tspan font-size="5" dy="-3">-1</tspan></text>
<path d="M544.2 126.70H562.2" stroke="#ffb060" stroke-width="1"/>
<rect x="551.40" y="125.00" width="3.40" height="3.40" fill="#fff" stroke="#ff8c1a" stroke-width="0.8"/>
<text transform="translate(563.70,129.35) scale(1.05,1)" font-size="7.4" text-anchor="start" >NiC/NF</text>
<text transform="translate(628.80,129.35) scale(1.05,1)" font-size="7.4" text-anchor="start" >73.4 mV dec<tspan font-size="5" dy="-3">-1</tspan></text>
<path d="M544.2 136.90H562.2" stroke="#a020f0" stroke-width="1"/>
<rect x="551.40" y="135.20" width="3.40" height="3.40" fill="#fff" stroke="#a020f0" stroke-width="0.8"/>
<text transform="translate(563.70,139.55) scale(1.05,1)" font-size="7.4" text-anchor="start" >Ni<tspan font-size="4.8" dy="1.8">2</tspan><tspan dy="-1.8">P@NiC/NF</tspan></text>
<text transform="translate(628.80,139.55) scale(1.05,1)" font-size="7.4" text-anchor="start" >56.2 mV dec<tspan font-size="5" dy="-3">-1</tspan></text>
<path d="M544.2 149.10H562.2" stroke="#8888ff" stroke-width="1"/>
<rect x="551.40" y="147.40" width="3.40" height="3.40" fill="#fff" stroke="#0000ff" stroke-width="0.8"/>
<text transform="translate(563.70,151.75) scale(1.05,1)" font-size="7.4" text-anchor="start" >Ni<tspan font-size="4.8" dy="1.8">2</tspan><tspan dy="-1.8">P-Ni-MOF/NF</tspan></text>
<text transform="translate(628.80,151.75) scale(1.05,1)" font-size="7.4" text-anchor="start" >43.8 mV dec<tspan font-size="5" dy="-3">-1</tspan></text>
<path d="M33.20 362.30v-2.6 M61.72 362.30v-2.6 M90.25 362.30v-2.6 M118.77 362.30v-2.6 M147.29 362.30v-2.6 M175.82 362.30v-2.6 M204.34 362.30v-2.6 M47.46 362.30v-1.6 M75.98 362.30v-1.6 M104.51 362.30v-1.6 M133.03 362.30v-1.6 M161.55 362.30v-1.6 M190.08 362.30v-1.6 M218.60 362.30v-1.6 M33.20 362.30h2.6 M33.20 318.36h2.6 M33.20 274.41h2.6 M33.20 230.47h2.6 M33.20 340.33h1.6 M33.20 296.39h1.6 M33.20 252.44h1.6 M33.20 208.50h1.6" stroke="#000" stroke-width="1.2" fill="none"/>
<text transform="translate(33.20,372.10) scale(0.96,1)" font-size="9.0" text-anchor="middle" >0</text>
<text transform="translate(61.72,372.10) scale(0.96,1)" font-size="9.0" text-anchor="middle" >1</text>
<text transform="translate(90.25,372.10) scale(0.96,1)" font-size="9.0" text-anchor="middle" >2</text>
<text transform="translate(118.77,372.10) scale(0.96,1)" font-size="9.0" text-anchor="middle" >3</text>
<text transform="translate(147.29,372.10) scale(0.96,1)" font-size="9.0" text-anchor="middle" >4</text>
<text transform="translate(175.82,372.10) scale(0.96,1)" font-size="9.0" text-anchor="middle" >5</text>
<text transform="translate(204.34,372.10) scale(0.96,1)" font-size="9.0" text-anchor="middle" >6</text>
<text transform="translate(30.20,365.12) scale(0.96,1)" font-size="9.0" text-anchor="end" >0</text>
<text transform="translate(30.20,321.18) scale(0.96,1)" font-size="9.0" text-anchor="end" >1</text>
<text transform="translate(30.20,277.24) scale(0.96,1)" font-size="9.0" text-anchor="end" >2</text>
<text transform="translate(30.20,233.29) scale(0.96,1)" font-size="9.0" text-anchor="end" >3</text>
<text x="2.50" y="218.50" style="font-family:'Liberation Serif',serif" font-size="17">d</text>
<text transform="translate(10.40,277.50) rotate(-90) scale(1.0,1)" font-size="8.7" text-anchor="middle">-Z'' (ohm)</text>
<text transform="translate(125.90,383.80) scale(1.0,1)" font-size="8.7" text-anchor="middle" >Z' (ohm)</text>
<path d="M33.80 361.50 L36.00 359.00 L39.00 357.00 L42.00 356.20 L45.00 356.00 L47.50 356.80 L49.30 358.50 L50.20 360.50" stroke="#a020f0" stroke-width="1.0" fill="none"/>
<path d="M33.80 359.52 L35.68 360.89 L34.96 363.10 L32.64 363.10 L31.92 360.89Z" fill="none" stroke="#a020f0" stroke-width="0.9"/>
<path d="M34.76 358.34 L36.64 359.71 L35.92 361.92 L33.60 361.92 L32.88 359.71Z" fill="none" stroke="#a020f0" stroke-width="0.9"/>
<path d="M35.79 357.21 L37.67 358.58 L36.95 360.79 L34.63 360.79 L33.91 358.58Z" fill="none" stroke="#a020f0" stroke-width="0.9"/>
<path d="M36.96 356.26 L38.84 357.63 L38.12 359.84 L35.80 359.84 L35.08 357.63Z" fill="none" stroke="#a020f0" stroke-width="0.9"/>
<path d="M38.26 355.41 L40.15 356.77 L39.43 358.99 L37.10 358.99 L36.38 356.77Z" fill="none" stroke="#a020f0" stroke-width="0.9"/>
<path d="M39.66 354.75 L41.54 356.12 L40.82 358.33 L38.50 358.33 L37.78 356.12Z" fill="none" stroke="#a020f0" stroke-width="0.9"/>
<path d="M41.16 354.37 L43.04 355.73 L42.32 357.95 L40.00 357.95 L39.28 355.73Z" fill="none" stroke="#a020f0" stroke-width="0.9"/>
<path d="M42.67 354.12 L44.55 355.49 L43.83 357.70 L41.51 357.70 L40.79 355.49Z" fill="none" stroke="#a020f0" stroke-width="0.9"/>
<path d="M44.20 353.99 L46.08 355.35 L45.36 357.57 L43.03 357.57 L42.31 355.35Z" fill="none" stroke="#a020f0" stroke-width="0.9"/>
<path d="M45.70 354.13 L47.59 355.50 L46.87 357.72 L44.54 357.72 L43.82 355.50Z" fill="none" stroke="#a020f0" stroke-width="0.9"/>
<path d="M47.14 354.63 L49.03 356.00 L48.31 358.21 L45.98 358.21 L45.26 356.00Z" fill="none" stroke="#a020f0" stroke-width="0.9"/>
<path d="M48.39 355.49 L50.27 356.86 L49.55 359.07 L47.23 359.07 L46.51 356.86Z" fill="none" stroke="#a020f0" stroke-width="0.9"/>
<path d="M49.38 356.64 L51.26 358.00 L50.54 360.22 L48.22 360.22 L47.50 358.00Z" fill="none" stroke="#a020f0" stroke-width="0.9"/>
<path d="M50.01 358.02 L51.89 359.39 L51.17 361.60 L48.85 361.60 L48.13 359.39Z" fill="none" stroke="#a020f0" stroke-width="0.9"/>
<path d="M33.80 361.60 L37.00 358.20 L40.50 355.50 L44.00 353.80 L47.50 353.80 L50.50 355.20 L53.00 357.00 L55.20 359.30" stroke="#ff8c1a" stroke-width="1.2" fill="none"/>
<path d="M33.80 359.32L36.08 361.60L33.80 363.88L31.52 361.60Z" fill="none" stroke="#ff8c1a" stroke-width="0.9"/>
<path d="M34.84 358.17L37.12 360.45L34.84 362.73L32.56 360.45Z" fill="none" stroke="#ff8c1a" stroke-width="0.9"/>
<path d="M35.92 357.00L38.20 359.28L35.92 361.56L33.64 359.28Z" fill="none" stroke="#ff8c1a" stroke-width="0.9"/>
<path d="M37.00 355.92L39.28 358.20L37.00 360.48L34.72 358.20Z" fill="none" stroke="#ff8c1a" stroke-width="0.9"/>
<path d="M38.17 354.91L40.45 357.19L38.17 359.47L35.89 357.19Z" fill="none" stroke="#ff8c1a" stroke-width="0.9"/>
<path d="M39.37 353.99L41.65 356.27L39.37 358.55L37.09 356.27Z" fill="none" stroke="#ff8c1a" stroke-width="0.9"/>
<path d="M40.64 353.13L42.92 355.41L40.64 357.69L38.36 355.41Z" fill="none" stroke="#ff8c1a" stroke-width="0.9"/>
<path d="M41.97 352.35L44.25 354.63L41.97 356.91L39.69 354.63Z" fill="none" stroke="#ff8c1a" stroke-width="0.9"/>
<path d="M43.37 351.71L45.65 353.99L43.37 356.27L41.09 353.99Z" fill="none" stroke="#ff8c1a" stroke-width="0.9"/>
<path d="M44.85 351.37L47.13 353.65L44.85 355.93L42.57 353.65Z" fill="none" stroke="#ff8c1a" stroke-width="0.9"/>
<path d="M46.42 351.36L48.70 353.64L46.42 355.92L44.14 353.64Z" fill="none" stroke="#ff8c1a" stroke-width="0.9"/>
<path d="M47.95 351.64L50.23 353.92L47.95 356.20L45.67 353.92Z" fill="none" stroke="#ff8c1a" stroke-width="0.9"/>
<path d="M49.36 352.26L51.64 354.54L49.36 356.82L47.08 354.54Z" fill="none" stroke="#ff8c1a" stroke-width="0.9"/>
<path d="M50.66 353.02L52.94 355.30L50.66 357.58L48.38 355.30Z" fill="none" stroke="#ff8c1a" stroke-width="0.9"/>
<path d="M51.95 353.87L54.23 356.15L51.95 358.43L49.67 356.15Z" fill="none" stroke="#ff8c1a" stroke-width="0.9"/>
<path d="M53.14 354.85L55.42 357.13L53.14 359.41L50.86 357.13Z" fill="none" stroke="#ff8c1a" stroke-width="0.9"/>
<path d="M54.21 355.93L56.49 358.21L54.21 360.49L51.93 358.21Z" fill="none" stroke="#ff8c1a" stroke-width="0.9"/>
<path d="M55.20 357.02L57.48 359.30L55.20 361.58L52.92 359.30Z" fill="none" stroke="#ff8c1a" stroke-width="0.9"/>
<path d="M33.80 361.50 L36.00 358.00 L39.50 354.50 L43.70 351.50 L47.00 350.00 L51.00 349.30 L55.00 349.30 L58.00 350.00 L60.70 351.50 L63.00 354.00 L64.60 357.00 L65.30 359.80" stroke="#0000ff" stroke-width="1.6" fill="none"/>
<path d="M33.80 363.70L36.00 359.90L31.60 359.90Z" fill="none" stroke="#0000ff" stroke-width="0.9"/>
<path d="M34.59 362.32L36.79 358.52L32.39 358.52Z" fill="none" stroke="#0000ff" stroke-width="0.9"/>
<path d="M35.39 361.04L37.59 357.24L33.19 357.24Z" fill="none" stroke="#0000ff" stroke-width="0.9"/>
<path d="M36.36 359.78L38.56 355.98L34.16 355.98Z" fill="none" stroke="#0000ff" stroke-width="0.9"/>
<path d="M37.41 358.63L39.61 354.83L35.21 354.83Z" fill="none" stroke="#0000ff" stroke-width="0.9"/>
<path d="M38.51 357.57L40.71 353.77L36.31 353.77Z" fill="none" stroke="#0000ff" stroke-width="0.9"/>
<path d="M39.66 356.57L41.86 352.77L37.46 352.77Z" fill="none" stroke="#0000ff" stroke-width="0.9"/>
<path d="M40.91 355.59L43.11 351.79L38.71 351.79Z" fill="none" stroke="#0000ff" stroke-width="0.9"/>
<path d="M42.14 354.71L44.34 350.91L39.94 350.91Z" fill="none" stroke="#0000ff" stroke-width="0.9"/>
<path d="M43.47 353.84L45.67 350.04L41.27 350.04Z" fill="none" stroke="#0000ff" stroke-width="0.9"/>
<path d="M44.80 353.08L47.00 349.28L42.60 349.28Z" fill="none" stroke="#0000ff" stroke-width="0.9"/>
<path d="M46.18 352.47L48.38 348.67L43.98 348.67Z" fill="none" stroke="#0000ff" stroke-width="0.9"/>
<path d="M47.68 352.02L49.88 348.22L45.48 348.22Z" fill="none" stroke="#0000ff" stroke-width="0.9"/>
<path d="M49.20 351.72L51.40 347.92L47.00 347.92Z" fill="none" stroke="#0000ff" stroke-width="0.9"/>
<path d="M50.76 351.52L52.96 347.72L48.56 347.72Z" fill="none" stroke="#0000ff" stroke-width="0.9"/>
<path d="M52.31 351.42L54.51 347.62L50.11 347.62Z" fill="none" stroke="#0000ff" stroke-width="0.9"/>
<path d="M53.87 351.43L56.07 347.63L51.67 347.63Z" fill="none" stroke="#0000ff" stroke-width="0.9"/>
<path d="M55.41 351.55L57.61 347.75L53.21 347.75Z" fill="none" stroke="#0000ff" stroke-width="0.9"/>
<path d="M56.93 351.84L59.13 348.04L54.73 348.04Z" fill="none" stroke="#0000ff" stroke-width="0.9"/>
<path d="M58.40 352.36L60.60 348.56L56.20 348.56Z" fill="none" stroke="#0000ff" stroke-width="0.9"/>
<path d="M59.77 353.05L61.97 349.25L57.57 349.25Z" fill="none" stroke="#0000ff" stroke-width="0.9"/>
<path d="M61.00 353.95L63.20 350.15L58.80 350.15Z" fill="none" stroke="#0000ff" stroke-width="0.9"/>
<path d="M62.06 355.01L64.26 351.21L59.86 351.21Z" fill="none" stroke="#0000ff" stroke-width="0.9"/>
<path d="M63.00 356.20L65.20 352.40L60.80 352.40Z" fill="none" stroke="#0000ff" stroke-width="0.9"/>
<path d="M63.80 357.50L66.00 353.70L61.60 353.70Z" fill="none" stroke="#0000ff" stroke-width="0.9"/>
<path d="M64.45 358.85L66.65 355.05L62.25 355.05Z" fill="none" stroke="#0000ff" stroke-width="0.9"/>
<path d="M64.93 360.27L67.13 356.47L62.73 356.47Z" fill="none" stroke="#0000ff" stroke-width="0.9"/>
<path d="M65.25 361.75L67.45 357.95L63.05 357.95Z" fill="none" stroke="#0000ff" stroke-width="0.9"/>
<path d="M36.70 360.97 L36.85 360.60 L37.04 360.15 L37.26 359.63 L37.50 359.05 L37.76 358.45 L38.03 357.85 L38.29 357.28 L38.54 356.77 L38.79 356.30 L39.06 355.83 L39.34 355.35 L39.63 354.87 L39.93 354.39 L40.23 353.92 L40.55 353.44 L40.86 352.97 L41.18 352.51 L41.49 352.07 L41.81 351.64 L42.13 351.21 L42.46 350.78 L42.79 350.35 L43.14 349.91 L43.50 349.47 L43.87 349.01 L44.25 348.53 L44.63 348.06 L45.00 347.60 L45.38 347.14 L45.76 346.68 L46.15 346.23 L46.56 345.77 L46.98 345.32 L47.45 344.84 L47.94 344.34 L48.45 343.83 L48.97 343.32 L49.50 342.81 L50.04 342.32 L50.59 341.83 L51.13 341.37 L51.69 340.92 L52.26 340.47 L52.84 340.03 L53.41 339.61 L53.99 339.20 L54.57 338.81 L55.17 338.43 L55.78 338.07 L56.42 337.72 L57.11 337.37 L57.84 337.01 L58.59 336.66 L59.35 336.33 L60.11 336.02 L60.87 335.74 L61.62 335.50 L62.34 335.29 L63.04 335.13 L63.75 334.99 L64.49 334.89 L65.23 334.81 L65.99 334.75 L66.75 334.71 L67.51 334.70 L68.26 334.69 L69.01 334.70 L69.72 334.73 L70.42 334.77 L71.09 334.82 L71.76 334.90 L72.41 334.99 L73.06 335.11 L73.71 335.25 L74.37 335.41 L75.04 335.61 L75.73 335.84 L76.42 336.09 L77.12 336.36 L77.80 336.66 L78.48 336.97 L79.14 337.31 L79.78 337.65 L80.40 338.02 L80.99 338.40 L81.57 338.80 L82.15 339.23 L82.72 339.68 L83.30 340.15 L83.88 340.66 L84.46 341.19 L85.06 341.74 L85.68 342.33 L86.31 342.95 L86.94 343.59 L87.55 344.24 L88.14 344.89 L88.69 345.54 L89.19 346.17 L89.63 346.76 L89.99 347.34 L90.36 348.01 L90.72 348.74 L91.07 349.49 L91.38 350.22 L91.67 350.91 L91.92 351.52 L92.16 352.07 L92.23 352.23" stroke="#008000" stroke-width="1.1" fill="none"/>
<path d="M34.50 357.91L36.59 361.52L32.41 361.52Z" fill="none" stroke="#008000" stroke-width="0.9"/>
<path d="M35.70 355.09L37.79 358.70L33.61 358.70Z" fill="none" stroke="#008000" stroke-width="0.9"/>
<path d="M37.08 352.37L39.17 355.98L34.99 355.98Z" fill="none" stroke="#008000" stroke-width="0.9"/>
<path d="M38.72 349.77L40.81 353.38L36.63 353.38Z" fill="none" stroke="#008000" stroke-width="0.9"/>
<path d="M40.50 347.30L42.59 350.91L38.41 350.91Z" fill="none" stroke="#008000" stroke-width="0.9"/>
<path d="M42.38 344.94L44.47 348.55L40.29 348.55Z" fill="none" stroke="#008000" stroke-width="0.9"/>
<path d="M44.35 342.56L46.44 346.17L42.26 346.17Z" fill="none" stroke="#008000" stroke-width="0.9"/>
<path d="M46.49 340.30L48.58 343.91L44.40 343.91Z" fill="none" stroke="#008000" stroke-width="0.9"/>
<path d="M48.72 338.19L50.81 341.80L46.63 341.80Z" fill="none" stroke="#008000" stroke-width="0.9"/>
<path d="M51.09 336.25L53.18 339.86L49.00 339.86Z" fill="none" stroke="#008000" stroke-width="0.9"/>
<path d="M53.59 334.50L55.68 338.11L51.50 338.11Z" fill="none" stroke="#008000" stroke-width="0.9"/>
<path d="M56.29 333.00L58.38 336.61L54.20 336.61Z" fill="none" stroke="#008000" stroke-width="0.9"/>
<path d="M59.11 331.75L61.20 335.36L57.02 335.36Z" fill="none" stroke="#008000" stroke-width="0.9"/>
<path d="M62.00 330.81L64.09 334.42L59.91 334.42Z" fill="none" stroke="#008000" stroke-width="0.9"/>
<path d="M65.02 330.33L67.11 333.94L62.93 333.94Z" fill="none" stroke="#008000" stroke-width="0.9"/>
<path d="M68.14 330.20L70.23 333.81L66.05 333.81Z" fill="none" stroke="#008000" stroke-width="0.9"/>
<path d="M71.20 330.33L73.29 333.94L69.11 333.94Z" fill="none" stroke="#008000" stroke-width="0.9"/>
<path d="M74.26 330.82L76.35 334.43L72.17 334.43Z" fill="none" stroke="#008000" stroke-width="0.9"/>
<path d="M77.14 331.70L79.23 335.31L75.05 335.31Z" fill="none" stroke="#008000" stroke-width="0.9"/>
<path d="M79.90 332.90L81.99 336.51L77.81 336.51Z" fill="none" stroke="#008000" stroke-width="0.9"/>
<path d="M82.54 334.46L84.63 338.07L80.45 338.07Z" fill="none" stroke="#008000" stroke-width="0.9"/>
<path d="M84.95 336.32L87.04 339.93L82.86 339.93Z" fill="none" stroke="#008000" stroke-width="0.9"/>
<path d="M87.24 338.41L89.33 342.02L85.15 342.02Z" fill="none" stroke="#008000" stroke-width="0.9"/>
<path d="M89.42 340.63L91.51 344.24L87.33 344.24Z" fill="none" stroke="#008000" stroke-width="0.9"/>
<path d="M91.36 342.97L93.45 346.58L89.27 346.58Z" fill="none" stroke="#008000" stroke-width="0.9"/>
<path d="M92.89 345.62L94.98 349.23L90.80 349.23Z" fill="none" stroke="#008000" stroke-width="0.9"/>
<path d="M94.10 348.41L96.19 352.02L92.01 352.02Z" fill="none" stroke="#008000" stroke-width="0.9"/>
<path d="M32.51 358.84 L32.60 358.55 L32.73 358.14 L32.88 357.63 L33.06 357.06 L33.26 356.43 L33.48 355.77 L33.71 355.10 L33.97 354.43 L34.22 353.80 L34.49 353.16 L34.77 352.50 L35.07 351.82 L35.39 351.14 L35.71 350.45 L36.06 349.75 L36.41 349.06 L36.77 348.38 L37.15 347.70 L37.54 347.01 L37.95 346.32 L38.37 345.63 L38.79 344.95 L39.22 344.28 L39.65 343.63 L40.07 343.00 L40.50 342.40 L40.91 341.83 L41.33 341.28 L41.75 340.74 L42.18 340.21 L42.62 339.69 L43.08 339.15 L43.56 338.60 L44.06 338.03 L44.59 337.44 L45.15 336.83 L45.72 336.21 L46.31 335.59 L46.91 334.97 L47.53 334.35 L48.16 333.75 L48.79 333.16 L49.43 332.59 L50.09 332.01 L50.76 331.44 L51.44 330.89 L52.12 330.34 L52.79 329.83 L53.46 329.33 L54.11 328.87 L54.72 328.46 L55.32 328.07 L55.91 327.70 L56.50 327.35 L57.10 327.02 L57.71 326.71 L58.35 326.42 L59.00 326.14 L59.70 325.87 L60.43 325.62 L61.17 325.38 L61.92 325.17 L62.67 324.98 L63.42 324.80 L64.16 324.65 L64.89 324.51 L65.59 324.39 L66.29 324.29 L66.98 324.21 L67.66 324.15 L68.34 324.11 L69.00 324.09 L69.67 324.08 L70.32 324.08 L70.98 324.10 L71.64 324.13 L72.30 324.18 L72.96 324.24 L73.62 324.32 L74.28 324.42 L74.94 324.53 L75.61 324.66 L76.27 324.81 L76.93 324.97 L77.59 325.14 L78.25 325.33 L78.92 325.54 L79.60 325.76 L80.28 326.01 L80.96 326.29 L81.66 326.59 L82.35 326.92 L83.04 327.28 L83.72 327.66 L84.41 328.06 L85.09 328.48 L85.76 328.92 L86.43 329.37 L87.09 329.84 L87.75 330.31 L88.41 330.81 L89.07 331.33 L89.72 331.87 L90.37 332.42 L91.02 332.98 L91.65 333.55 L92.27 334.13 L92.87 334.71 L93.47 335.30 L94.06 335.90 L94.64 336.52 L95.21 337.14 L95.76 337.76 L96.29 338.38 L96.81 338.99 L97.31 339.58 L97.79 340.18 L98.29 340.81 L98.78 341.46 L99.26 342.11 L99.71 342.74 L100.12 343.32 L100.48 343.83 L100.78 344.26 L101.00 344.56 L101.00 344.56" stroke="#ff0000" stroke-width="1.1" fill="none"/>
<circle cx="34.50" cy="359.50" r="1.70" fill="none" stroke="#ff0000" stroke-width="0.9"/>
<circle cx="35.54" cy="356.24" r="1.70" fill="none" stroke="#ff0000" stroke-width="0.9"/>
<circle cx="36.84" cy="353.01" r="1.70" fill="none" stroke="#ff0000" stroke-width="0.9"/>
<circle cx="38.33" cy="349.93" r="1.70" fill="none" stroke="#ff0000" stroke-width="0.9"/>
<circle cx="40.02" cy="346.95" r="1.70" fill="none" stroke="#ff0000" stroke-width="0.9"/>
<circle cx="41.94" cy="344.01" r="1.70" fill="none" stroke="#ff0000" stroke-width="0.9"/>
<circle cx="44.01" cy="341.29" r="1.70" fill="none" stroke="#ff0000" stroke-width="0.9"/>
<circle cx="46.33" cy="338.65" r="1.70" fill="none" stroke="#ff0000" stroke-width="0.9"/>
<circle cx="48.71" cy="336.14" r="1.70" fill="none" stroke="#ff0000" stroke-width="0.9"/>
<circle cx="51.24" cy="333.79" r="1.70" fill="none" stroke="#ff0000" stroke-width="0.9"/>
<circle cx="53.95" cy="331.58" r="1.70" fill="none" stroke="#ff0000" stroke-width="0.9"/>
<circle cx="56.81" cy="329.60" r="1.70" fill="none" stroke="#ff0000" stroke-width="0.9"/>
<circle cx="59.90" cy="328.04" r="1.70" fill="none" stroke="#ff0000" stroke-width="0.9"/>
<circle cx="63.17" cy="327.02" r="1.70" fill="none" stroke="#ff0000" stroke-width="0.9"/>
<circle cx="66.56" cy="326.37" r="1.70" fill="none" stroke="#ff0000" stroke-width="0.9"/>
<circle cx="69.98" cy="326.18" r="1.70" fill="none" stroke="#ff0000" stroke-width="0.9"/>
<circle cx="73.45" cy="326.42" r="1.70" fill="none" stroke="#ff0000" stroke-width="0.9"/>
<circle cx="76.83" cy="327.11" r="1.70" fill="none" stroke="#ff0000" stroke-width="0.9"/>
<circle cx="80.15" cy="328.23" r="1.70" fill="none" stroke="#ff0000" stroke-width="0.9"/>
<circle cx="83.22" cy="329.80" r="1.70" fill="none" stroke="#ff0000" stroke-width="0.9"/>
<circle cx="86.08" cy="331.69" r="1.70" fill="none" stroke="#ff0000" stroke-width="0.9"/>
<circle cx="88.80" cy="333.83" r="1.70" fill="none" stroke="#ff0000" stroke-width="0.9"/>
<circle cx="91.31" cy="336.12" r="1.70" fill="none" stroke="#ff0000" stroke-width="0.9"/>
<circle cx="93.73" cy="338.64" r="1.70" fill="none" stroke="#ff0000" stroke-width="0.9"/>
<circle cx="96.00" cy="341.30" r="1.70" fill="none" stroke="#ff0000" stroke-width="0.9"/>
<circle cx="98.07" cy="344.05" r="1.70" fill="none" stroke="#ff0000" stroke-width="0.9"/>
<circle cx="99.30" cy="345.80" r="1.70" fill="none" stroke="#ff0000" stroke-width="0.9"/>
<path d="M33.80 361.50 C34.10 359.92 34.75 355.42 35.60 352.00 C36.45 348.58 37.72 344.67 38.90 341.00 C40.08 337.33 41.43 333.50 42.70 330.00 C43.97 326.50 45.20 323.03 46.50 320.00 C47.80 316.97 49.20 314.58 50.50 311.80 C51.80 309.02 52.55 306.43 54.30 303.30 C56.05 300.17 59.22 295.67 61.00 293.00 C62.78 290.33 63.30 289.47 65.00 287.30 C66.70 285.13 68.78 282.52 71.20 280.00 C73.62 277.48 76.57 274.53 79.50 272.20 C82.43 269.87 85.53 267.72 88.80 266.00 C92.07 264.28 95.48 263.03 99.10 261.90 C102.72 260.77 107.02 259.77 110.50 259.20 C113.98 258.63 116.70 258.38 120.00 258.50 C123.30 258.62 126.85 259.10 130.30 259.90 C133.75 260.70 137.42 262.00 140.70 263.30 C143.98 264.60 147.42 266.28 150.00 267.70 C152.58 269.12 154.13 270.20 156.20 271.80 C158.27 273.40 160.33 275.32 162.40 277.30 C164.47 279.28 166.53 281.43 168.60 283.70 C170.67 285.97 172.73 288.23 174.80 290.90 C176.87 293.57 179.43 297.23 181.00 299.70 C182.57 302.17 182.80 302.87 184.20 305.70 C185.60 308.53 188.00 313.48 189.40 316.70 C190.80 319.92 191.63 322.42 192.60 325.00 C193.57 327.58 194.77 331.00 195.20 332.20" stroke="#000" stroke-width="1.4" fill="none" stroke-linejoin="round" />
<rect x="34.70" y="355.40" width="3.20" height="3.20" fill="none" stroke="#000" stroke-width="0.7"/>
<rect x="36.00" y="351.70" width="3.20" height="3.20" fill="none" stroke="#000" stroke-width="0.7"/>
<rect x="37.20" y="347.60" width="3.20" height="3.20" fill="none" stroke="#000" stroke-width="0.7"/>
<rect x="38.50" y="343.10" width="3.20" height="3.20" fill="none" stroke="#000" stroke-width="0.7"/>
<rect x="40.00" y="338.20" width="3.20" height="3.20" fill="none" stroke="#000" stroke-width="0.7"/>
<rect x="41.40" y="333.90" width="3.20" height="3.20" fill="none" stroke="#000" stroke-width="0.7"/>
<rect x="42.90" y="329.00" width="3.20" height="3.20" fill="none" stroke="#000" stroke-width="0.7"/>
<rect x="44.80" y="323.40" width="3.20" height="3.20" fill="none" stroke="#000" stroke-width="0.7"/>
<rect x="46.40" y="317.40" width="3.20" height="3.20" fill="none" stroke="#000" stroke-width="0.7"/>
<rect x="49.50" y="310.50" width="3.20" height="3.20" fill="none" stroke="#000" stroke-width="0.7"/>
<rect x="53.30" y="303.70" width="3.20" height="3.20" fill="none" stroke="#000" stroke-width="0.7"/>
<rect x="58.00" y="295.90" width="3.20" height="3.20" fill="none" stroke="#000" stroke-width="0.7"/>
<rect x="64.00" y="287.70" width="3.20" height="3.20" fill="none" stroke="#000" stroke-width="0.7"/>
<rect x="70.60" y="280.30" width="3.20" height="3.20" fill="none" stroke="#000" stroke-width="0.7"/>
<rect x="79.10" y="272.70" width="3.20" height="3.20" fill="none" stroke="#000" stroke-width="0.7"/>
<rect x="88.70" y="266.50" width="3.20" height="3.20" fill="none" stroke="#000" stroke-width="0.7"/>
<rect x="98.90" y="261.60" width="3.20" height="3.20" fill="none" stroke="#000" stroke-width="0.7"/>
<rect x="109.90" y="258.60" width="3.20" height="3.20" fill="none" stroke="#000" stroke-width="0.7"/>
<rect x="121.40" y="258.20" width="3.20" height="3.20" fill="none" stroke="#000" stroke-width="0.7"/>
<rect x="132.90" y="259.80" width="3.20" height="3.20" fill="none" stroke="#000" stroke-width="0.7"/>
<rect x="144.10" y="263.70" width="3.20" height="3.20" fill="none" stroke="#000" stroke-width="0.7"/>
<rect x="154.60" y="269.20" width="3.20" height="3.20" fill="none" stroke="#000" stroke-width="0.7"/>
<rect x="163.00" y="276.40" width="3.20" height="3.20" fill="none" stroke="#000" stroke-width="0.7"/>
<rect x="170.20" y="284.20" width="3.20" height="3.20" fill="none" stroke="#000" stroke-width="0.7"/>
<rect x="175.80" y="291.80" width="3.20" height="3.20" fill="none" stroke="#000" stroke-width="0.7"/>
<rect x="180.30" y="299.10" width="3.20" height="3.20" fill="none" stroke="#000" stroke-width="0.7"/>
<rect x="184.50" y="305.10" width="3.20" height="3.20" fill="none" stroke="#000" stroke-width="0.7"/>
<rect x="188.00" y="310.30" width="3.20" height="3.20" fill="none" stroke="#000" stroke-width="0.7"/>
<rect x="190.40" y="315.10" width="3.20" height="3.20" fill="none" stroke="#000" stroke-width="0.7"/>
<rect x="192.30" y="319.00" width="3.20" height="3.20" fill="none" stroke="#000" stroke-width="0.7"/>
<rect x="194.20" y="323.20" width="3.20" height="3.20" fill="none" stroke="#000" stroke-width="0.7"/>
<rect x="113.40" y="303.40" width="3.40" height="3.40" fill="#fff" stroke="#000" stroke-width="0.85"/>
<text transform="translate(126.00,307.75) scale(1.05,1)" font-size="7.4" text-anchor="start" >NF</text>
<circle cx="115.10" cy="314.30" r="2.00" fill="none" stroke="#ff0000" stroke-width="0.85"/>
<text transform="translate(126.00,316.95) scale(1.05,1)" font-size="7.4" text-anchor="start" >pNF</text>
<path d="M115.10 321.59L117.41 325.58L112.79 325.58Z" fill="none" stroke="#008000" stroke-width="0.85"/>
<text transform="translate(126.00,326.55) scale(1.05,1)" font-size="7.4" text-anchor="start" >Ni-MOF/NF</text>
<path d="M115.10 330.90L117.50 333.30L115.10 335.70L112.70 333.30Z" fill="none" stroke="#ff8c1a" stroke-width="0.85"/>
<text transform="translate(126.00,335.95) scale(1.05,1)" font-size="7.4" text-anchor="start" >NiC/NF</text>
<path d="M115.10 340.60 L117.19 342.12 L116.39 344.58 L113.81 344.58 L113.01 342.12Z" fill="none" stroke="#a020f0" stroke-width="0.85"/>
<text transform="translate(126.00,345.45) scale(1.05,1)" font-size="7.4" text-anchor="start" >Ni<tspan font-size="4.8" dy="1.8">2</tspan><tspan dy="-1.8">P@C/NF</tspan></text>
<path d="M115.10 355.71L117.41 351.72L112.79 351.72Z" fill="none" stroke="#0000ff" stroke-width="0.85"/>
<text transform="translate(126.00,356.05) scale(1.05,1)" font-size="7.4" text-anchor="start" >Ni<tspan font-size="4.8" dy="1.8">2</tspan><tspan dy="-1.8">P@Ni-MOF/NF</tspan></text>
<path d="M265.20 361.60v-2.6 M283.66 361.60v-2.6 M302.12 361.60v-2.6 M320.58 361.60v-2.6 M339.04 361.60v-2.6 M357.50 361.60v-2.6 M375.96 361.60v-2.6 M394.42 361.60v-2.6 M412.88 361.60v-2.6 M431.34 361.60v-2.6 M449.80 361.60v-2.6 M274.43 361.60v-1.6 M292.89 361.60v-1.6 M311.35 361.60v-1.6 M329.81 361.60v-1.6 M348.27 361.60v-1.6 M366.73 361.60v-1.6 M385.19 361.60v-1.6 M403.65 361.60v-1.6 M422.11 361.60v-1.6 M440.57 361.60v-1.6 M265.20 361.60h2.6 M265.20 342.28h2.6 M265.20 322.95h2.6 M265.20 303.62h2.6 M265.20 284.30h2.6 M265.20 264.98h2.6 M265.20 245.65h2.6 M265.20 226.32h2.6 M265.20 207.00h2.6 M265.20 351.94h1.6 M265.20 332.61h1.6 M265.20 313.29h1.6 M265.20 293.96h1.6 M265.20 274.64h1.6 M265.20 255.31h1.6 M265.20 235.99h1.6 M265.20 216.66h1.6" stroke="#000" stroke-width="1.2" fill="none"/>
<text transform="translate(265.20,371.40) scale(0.96,1)" font-size="9.0" text-anchor="middle" >0</text>
<text transform="translate(283.66,371.40) scale(0.96,1)" font-size="9.0" text-anchor="middle" >1</text>
<text transform="translate(302.12,371.40) scale(0.96,1)" font-size="9.0" text-anchor="middle" >2</text>
<text transform="translate(320.58,371.40) scale(0.96,1)" font-size="9.0" text-anchor="middle" >3</text>
<text transform="translate(339.04,371.40) scale(0.96,1)" font-size="9.0" text-anchor="middle" >4</text>
<text transform="translate(357.50,371.40) scale(0.96,1)" font-size="9.0" text-anchor="middle" >5</text>
<text transform="translate(375.96,371.40) scale(0.96,1)" font-size="9.0" text-anchor="middle" >6</text>
<text transform="translate(394.42,371.40) scale(0.96,1)" font-size="9.0" text-anchor="middle" >7</text>
<text transform="translate(412.88,371.40) scale(0.96,1)" font-size="9.0" text-anchor="middle" >8</text>
<text transform="translate(431.34,371.40) scale(0.96,1)" font-size="9.0" text-anchor="middle" >9</text>
<text transform="translate(449.80,371.40) scale(0.96,1)" font-size="9.0" text-anchor="middle" >10</text>
<text transform="translate(262.20,364.42) scale(0.96,1)" font-size="9.0" text-anchor="end" >10</text>
<text transform="translate(262.20,345.10) scale(0.96,1)" font-size="9.0" text-anchor="end" >20</text>
<text transform="translate(262.20,325.77) scale(0.96,1)" font-size="9.0" text-anchor="end" >30</text>
<text transform="translate(262.20,306.45) scale(0.96,1)" font-size="9.0" text-anchor="end" >40</text>
<text transform="translate(262.20,287.12) scale(0.96,1)" font-size="9.0" text-anchor="end" >50</text>
<text transform="translate(262.20,267.80) scale(0.96,1)" font-size="9.0" text-anchor="end" >60</text>
<text transform="translate(262.20,248.47) scale(0.96,1)" font-size="9.0" text-anchor="end" >70</text>
<text transform="translate(262.20,229.15) scale(0.96,1)" font-size="9.0" text-anchor="end" >80</text>
<text transform="translate(262.20,209.82) scale(0.96,1)" font-size="9.0" text-anchor="end" >90</text>
<text x="235.50" y="218.50" style="font-family:'Liberation Serif',serif" font-size="17">e</text>
<text transform="translate(242.20,282.80) rotate(-90) scale(1.0,1)" font-size="8.7" text-anchor="middle"><tspan font-style="italic">j</tspan> (mA cm<tspan font-size="5.6" dy="-3">-2</tspan><tspan dy="3">)</tspan></text>
<text transform="translate(361.40,383.90) scale(1.0,1)" font-size="8.7" text-anchor="middle" >Time (h)</text>
<path d="M265.50 299.40 C265.80 298.43 266.52 295.35 267.30 293.60 C268.08 291.85 269.10 290.28 270.20 288.90 C271.30 287.52 272.68 286.17 273.90 285.30 C275.12 284.43 275.93 284.07 277.50 283.70 C279.07 283.33 280.72 283.07 283.30 283.10 C285.88 283.13 288.80 283.60 293.00 283.90 C297.20 284.20 303.33 284.60 308.50 284.90 C313.67 285.20 318.75 285.45 324.00 285.70 C329.25 285.95 334.53 286.28 340.00 286.40 C345.47 286.52 351.20 286.50 356.80 286.40 C362.40 286.30 368.00 286.05 373.60 285.80 C379.20 285.55 383.67 285.18 390.40 284.90 C397.13 284.62 409.93 284.35 414.00 284.10 C418.07 283.85 411.75 283.52 414.80 283.40 C417.85 283.28 427.42 283.30 432.30 283.40 C437.18 283.50 441.23 283.70 444.10 284.00 C446.97 284.30 448.60 285.00 449.50 285.20" stroke="#000" stroke-width="1.6" fill="none" stroke-linejoin="round" />
<path d="M498.40 361.90v-2.6 M539.53 361.90v-2.6 M580.67 361.90v-2.6 M621.80 361.90v-2.6 M662.93 361.90v-2.6 M518.97 361.90v-1.6 M560.10 361.90v-1.6 M601.23 361.90v-1.6 M642.37 361.90v-1.6 M683.50 361.90v-1.6 M498.40 353.11h2.6 M498.40 317.96h2.6 M498.40 282.80h2.6 M498.40 247.65h2.6 M498.40 212.49h2.6 M498.40 335.53h1.6 M498.40 300.38h1.6 M498.40 265.23h1.6 M498.40 230.07h1.6" stroke="#000" stroke-width="1.2" fill="none"/>
<text transform="translate(498.40,371.70) scale(0.96,1)" font-size="9.0" text-anchor="middle" >1.1</text>
<text transform="translate(539.53,371.70) scale(0.96,1)" font-size="9.0" text-anchor="middle" >1.2</text>
<text transform="translate(580.67,371.70) scale(0.96,1)" font-size="9.0" text-anchor="middle" >1.3</text>
<text transform="translate(621.80,371.70) scale(0.96,1)" font-size="9.0" text-anchor="middle" >1.4</text>
<text transform="translate(662.93,371.70) scale(0.96,1)" font-size="9.0" text-anchor="middle" >1.5</text>
<text transform="translate(495.40,355.93) scale(0.96,1)" font-size="9.0" text-anchor="end" >0</text>
<text transform="translate(495.40,320.78) scale(0.96,1)" font-size="9.0" text-anchor="end" >200</text>
<text transform="translate(495.40,285.62) scale(0.96,1)" font-size="9.0" text-anchor="end" >400</text>
<text transform="translate(495.40,250.47) scale(0.96,1)" font-size="9.0" text-anchor="end" >600</text>
<text transform="translate(495.40,215.32) scale(0.96,1)" font-size="9.0" text-anchor="end" >800</text>
<text x="470.50" y="218.50" style="font-family:'Liberation Serif',serif" font-size="17">f</text>
<text transform="translate(475.80,283.30) rotate(-90) scale(1.0,1)" font-size="8.7" text-anchor="middle"><tspan font-style="italic">j</tspan> (mA cm<tspan font-size="5.6" dy="-3">-2</tspan><tspan dy="3">)</tspan></text>
<text transform="translate(591.60,384.00) scale(1.0,1)" font-size="8.7" text-anchor="middle" >Potential (V vs RHE)</text>
<path d="M499.00 353.10 C509.17 353.08 544.83 353.07 560.00 353.00 C575.17 352.93 582.93 352.83 590.00 352.70 C597.07 352.57 598.97 352.52 602.40 352.20 C605.83 351.88 608.20 351.65 610.60 350.80 C613.00 349.95 614.73 348.92 616.80 347.10 C618.87 345.28 620.93 343.17 623.00 339.90 C625.07 336.63 627.13 331.98 629.20 327.50 C631.27 323.02 633.33 317.82 635.40 313.00 C637.47 308.18 639.37 304.10 641.60 298.60 C643.83 293.10 646.73 285.60 648.80 280.00 C650.87 274.40 652.38 269.50 654.00 265.00 C655.62 260.50 656.95 257.05 658.50 253.00 C660.05 248.95 661.60 246.12 663.30 240.70 C665.00 235.28 667.12 226.12 668.70 220.50 C670.28 214.88 672.12 209.25 672.80 207.00" stroke="#000" stroke-width="1.5" fill="none" stroke-linejoin="round" />
<path d="M499.00 353.10 C509.17 353.08 544.83 353.07 560.00 353.00 C575.17 352.93 582.93 352.83 590.00 352.70 C597.07 352.57 598.97 352.52 602.40 352.20 C605.83 351.88 608.20 351.65 610.60 350.80 C613.00 349.95 614.73 348.92 616.80 347.10 C618.87 345.28 620.93 343.17 623.00 339.90 C625.07 336.63 627.13 331.98 629.20 327.50 C631.27 323.02 633.33 317.82 635.40 313.00 C637.47 308.18 639.37 304.10 641.60 298.60 C643.83 293.10 646.73 285.60 648.80 280.00 C650.87 274.40 652.38 269.42 654.00 265.00 C655.62 260.58 656.95 257.12 658.50 253.50 C660.05 249.88 661.60 247.50 663.30 243.30 C665.00 239.10 667.17 232.60 668.70 228.30 C670.23 224.00 671.22 221.05 672.50 217.50 C673.78 213.95 675.75 208.75 676.40 207.00" stroke="#ff0000" stroke-width="1.5" fill="none" stroke-linejoin="round" stroke-dasharray="3 3"/>
<path d="M519.7 318.2H537.7" stroke="#000" stroke-width="1.5"/>
<path d="M519.7 327.5H537.7" stroke="#ff0000" stroke-width="1.5" stroke-dasharray="3 3"/>
<text transform="translate(539.80,320.85) scale(1.05,1)" font-size="7.4" text-anchor="start" >Before Test</text>
<text transform="translate(539.80,330.15) scale(1.05,1)" font-size="7.4" text-anchor="start" >After Test</text>
<rect x="33.20" y="6.20" width="185.20" height="153.60" fill="none" stroke="#000" stroke-width="1.4"/>
<rect x="265.20" y="6.20" width="184.80" height="153.90" fill="none" stroke="#000" stroke-width="1.4"/>
<rect x="499.00" y="7.10" width="184.70" height="153.90" fill="none" stroke="#000" stroke-width="1.4"/>
<rect x="33.20" y="208.50" width="185.40" height="153.80" fill="none" stroke="#000" stroke-width="1.4"/>
<rect x="265.20" y="207.00" width="184.60" height="154.60" fill="none" stroke="#000" stroke-width="1.4"/>
<rect x="498.40" y="208.10" width="185.10" height="153.80" fill="none" stroke="#000" stroke-width="1.4"/></svg></body></html>
